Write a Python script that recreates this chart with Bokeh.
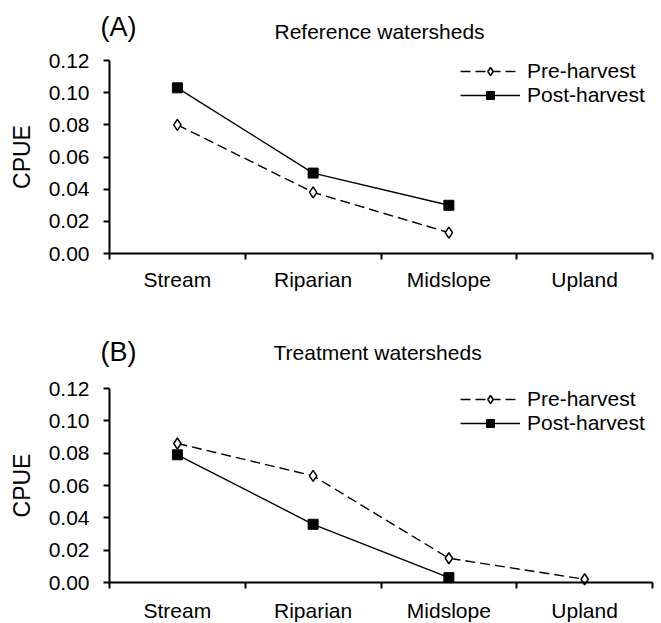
import math
from bokeh.plotting import figure
from bokeh.models import Range1d, FixedTicker, Label, Legend, LegendItem, NumeralTickFormatter
from bokeh.layouts import column
from bokeh.embed import file_html
from bokeh.resources import INLINE

categories = ["Stream", "Riparian", "Midslope", "Upland"]
series_names = ["Pre-harvest", "Post-harvest"]
ref_pre = [0.080, 0.038, 0.013, float("nan")]
ref_post = [0.103, 0.050, 0.030, float("nan")]
trt_pre = [0.086, 0.066, 0.015, 0.002]
trt_post = [0.079, 0.036, 0.003, float("nan")]
y_ticks = [0.00, 0.02, 0.04, 0.06, 0.08, 0.10, 0.12]
panel_tags = ["(A)", "(B)"]
panel_titles = ["Reference watersheds", "Treatment watersheds"]

FONT = "Liberation Sans"
WIDTH = 661
AXIS_X = 109          # pixel of y axis
FRAME_RIGHT = 652     # pixel of last category boundary
YMAX = 0.12


def make_panel(tag, title, pre, post, height, zero_py, px_per_ymax, legend_bottom_py,
               xstandoff, tag_xy, title_xy):
    n = len(categories)
    ppu = (FRAME_RIGHT - AXIS_X) / n
    xmin = -AXIS_X / ppu
    xmax = (WIDTH - AXIS_X) / ppu
    ymax_view = YMAX * zero_py / px_per_ymax
    ymin_view = -YMAX * (height - zero_py) / px_per_ymax

    def px2data(px, py):
        return (px - AXIS_X) / ppu, (zero_py - py) / px_per_ymax * YMAX

    xs = [i + 0.5 for i in range(n)]
    p = figure(width=WIDTH, height=height, output_backend="svg", toolbar_location=None,
               x_range=Range1d(xmin, xmax), y_range=Range1d(ymin_view, ymax_view),
               min_border_left=0, min_border_right=0,
               min_border_top=0, min_border_bottom=0)
    p.outline_line_color = None
    p.xgrid.grid_line_color = None
    p.ygrid.grid_line_color = None
    p.background_fill_color = "white"
    p.border_fill_color = "white"

    pre_x = [x for x, v in zip(xs, pre) if not math.isnan(v)]
    pre_v = [v for v in pre if not math.isnan(v)]
    post_x = [x for x, v in zip(xs, post) if not math.isnan(v)]
    post_v = [v for v in post if not math.isnan(v)]

    l1 = p.line(pre_x, pre_v, line_color="black", line_width=1.4, line_dash="10 5")
    s1 = p.scatter(pre_x, pre_v, marker="diamond", size=11,
                   fill_color="white", line_color="black", line_width=1.5)
    l2 = p.line(post_x, post_v, line_color="black", line_width=1.4)
    s2 = p.scatter(post_x, post_v, marker="square", size=10,
                   fill_color="black", line_color="black")

    legend = Legend(items=[LegendItem(label=series_names[0], renderers=[l1, s1]),
                           LegendItem(label=series_names[1], renderers=[l2, s2])],
                    location=(460, height - legend_bottom_py), glyph_width=60,
                    glyph_height=20, label_height=20, spacing=-2, padding=0, margin=0,
                    border_line_color=None, background_fill_alpha=0,
                    label_text_font=FONT, label_text_font_size="21px",
                    label_text_color="black", label_standoff=7)
    p.add_layout(legend)

    xa = p.xaxis[0]
    xa.fixed_location = 0
    xa.bounds = (0, n)
    xa.ticker = FixedTicker(ticks=xs, minor_ticks=list(range(n + 1)))
    xa.major_label_overrides = {x: c for x, c in zip(xs, categories)}
    xa.major_tick_out = 0
    xa.major_tick_in = 0
    xa.minor_tick_out = 6
    xa.minor_tick_in = 0
    xa.minor_tick_line_width = 2
    xa.minor_tick_line_color = "black"
    xa.axis_line_width = 2
    xa.axis_line_color = "black"
    xa.major_label_text_font = FONT
    xa.major_label_text_font_size = "21px"
    xa.major_label_text_color = "black"
    xa.major_label_standoff = xstandoff

    ya = p.yaxis[0]
    ya.fixed_location = 0
    ya.bounds = (0, YMAX)
    ya.ticker = FixedTicker(ticks=y_ticks, minor_ticks=[])
    ya.formatter = NumeralTickFormatter(format="0.00")
    ya.major_tick_out = 6
    ya.major_tick_in = 0
    ya.major_tick_line_width = 2
    ya.major_tick_line_color = "black"
    ya.minor_tick_line_color = None
    ya.axis_line_width = 2
    ya.axis_line_color = "black"
    ya.major_label_text_font = FONT
    ya.major_label_text_font_size = "21px"
    ya.major_label_text_color = "black"
    ya.major_label_standoff = 14
    ya.axis_label = "CPUE"
    ya.axis_label_text_font = FONT
    ya.axis_label_text_font_size = "23px"
    ya.axis_label_text_font_style = "normal"
    ya.axis_label_text_color = "black"
    ya.axis_label_standoff = 11

    tx, ty = px2data(*tag_xy)
    p.add_layout(Label(x=tx, y=ty, text=tag, text_font=FONT, text_font_size="27px",
                       text_baseline="middle", text_color="black"))
    hx, hy = px2data(*title_xy)
    p.add_layout(Label(x=hx, y=hy, text=title, text_font=FONT, text_font_size="21px",
                       text_baseline="middle", text_color="black"))
    return p


# panel A: 0.00 at 253 px of its figure, 0.12 spans 193 px
p1 = make_panel(panel_tags[0], panel_titles[0], ref_pre, ref_post,
                height=300, zero_py=253, px_per_ymax=193, legend_bottom_py=107,
                xstandoff=8, tag_xy=(100, 26), title_xy=(274, 31))
# panel B: figure starts at page y 300; 0.00 at 282 px, 0.12 spans 194 px
p2 = make_panel(panel_tags[1], panel_titles[1], trt_pre, trt_post,
                height=323, zero_py=282, px_per_ymax=194, legend_bottom_py=135,
                xstandoff=10, tag_xy=(100, 51), title_xy=(273, 52))

layout = column(p1, p2, spacing=0)
open("out.html", "w").write(file_html(layout, INLINE))
